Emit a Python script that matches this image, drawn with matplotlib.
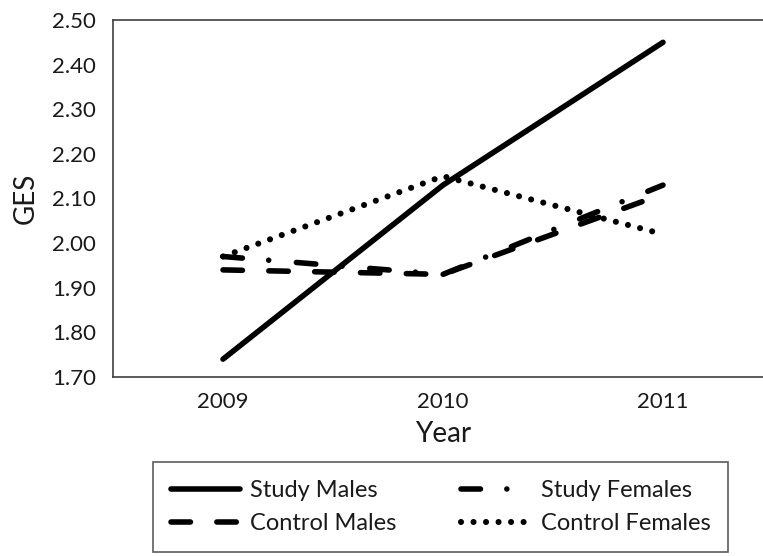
import matplotlib
matplotlib.use("Agg")
import matplotlib.pyplot as plt

plt.rcParams['font.family'] = ['Lato', 'DejaVu Sans']
plt.rcParams['lines.scale_dashes'] = False

years = ["2009", "2010", "2011"]
study_males = [1.74, 2.13, 2.45]
study_females = [1.97, 1.93, 2.13]
control_males = [1.94, 1.93, 2.11]
control_females = [1.97, 2.15, 2.02]
yticks = [1.70, 1.80, 1.90, 2.00, 2.10, 2.20, 2.30, 2.40, 2.50]

W, H = 763, 556
fig = plt.figure(figsize=(W / 100, H / 100), dpi=100)
left, right, top, bottom = 113, 773, 20, 377
ax = fig.add_axes([left / W, 1 - bottom / H, (right - left) / W, (bottom - top) / H])

x = list(range(len(years)))
lw = 4.0
common = dict(color='black', linewidth=lw, solid_capstyle='round', dash_capstyle='round')
l1, = ax.plot(x, study_males, linestyle='-', label='Study Males', **common)
l2, = ax.plot(x, control_males, linestyle=(0, (14, 19)), label='Control Males', **common)
l3, = ax.plot(x, study_females, linestyle=(0, (14, 19, 0.01, 20)), label='Study Females', **common)
l4, = ax.plot(x, control_females, color='black', linewidth=4.4, dash_capstyle='round',
              linestyle=(0, (0.01, 9)), label='Control Females')

ax.set_xlim(-0.5, 2.5)
ax.set_ylim(1.70, 2.50)
ax.set_xticks(x)
ax.set_xticklabels(years)
ax.set_yticks(yticks)
ax.set_yticklabels([f"{v:.2f}" for v in yticks])
ax.tick_params(axis='both', length=0, labelsize=16, colors='#1a1a1a')
ax.tick_params(axis='y', pad=12)
ax.tick_params(axis='x', pad=11)
ax.set_xlabel('Year', fontsize=20, labelpad=6, color='#1a1a1a')
ax.set_ylabel('GES', fontsize=20, labelpad=10, color='#1a1a1a')

for s in ['left', 'bottom', 'top']:
    ax.spines[s].set_color('#404040')
    ax.spines[s].set_linewidth(1.2)
ax.spines['right'].set_visible(False)

lx0, lx1, ly0, ly1 = 153, 728, 462, 552
leg = fig.legend(handles=[l1, l2, l3, l4], ncol=2,
                 loc='center', bbox_to_anchor=(lx0 / W, 1 - ly1 / H, (lx1 - lx0) / W, (ly1 - ly0) / H),
                 mode='expand', fontsize=17, frameon=True, fancybox=False, shadow=False,
                 handlelength=2.95, handletextpad=0.42, borderaxespad=0, borderpad=0.75,
                 labelspacing=0.5, columnspacing=1.0)
leg.get_frame().set_edgecolor('#333333')
leg.get_frame().set_linewidth(1.2)
for t in leg.get_texts():
    t.set_color('#1a1a1a')

fig.savefig('out.png', dpi=100)
